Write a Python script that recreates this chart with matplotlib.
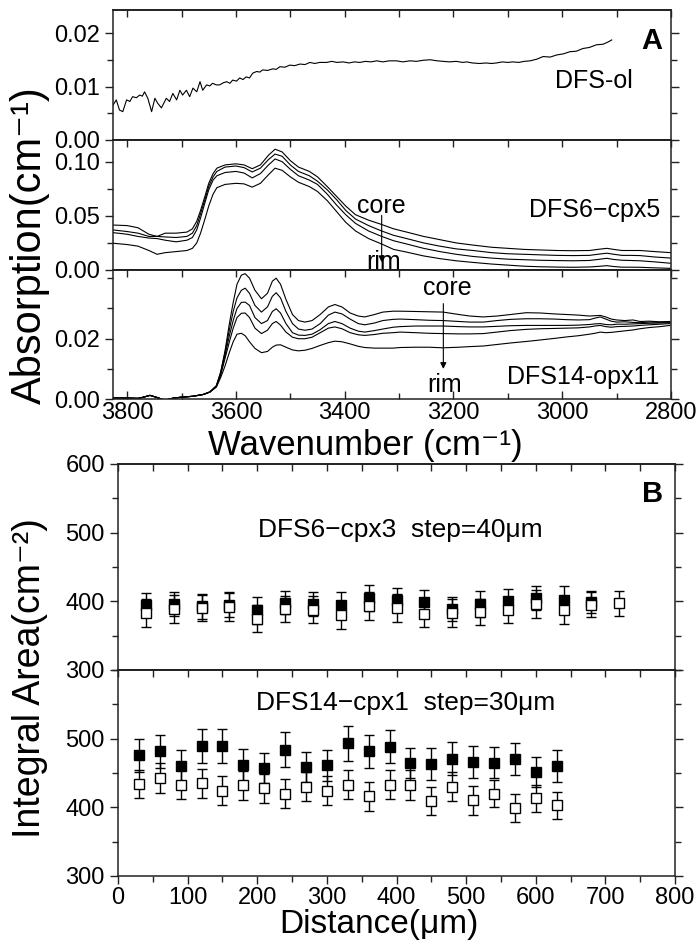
import matplotlib
matplotlib.use('Agg')
import matplotlib.pyplot as plt
import numpy as np
from matplotlib.ticker import MultipleLocator, FixedLocator, FormatStrFormatter

plt.rcParams['font.family'] = ['Liberation Sans', 'DejaVu Sans']

# ---- panel A: DFS-ol spectrum (wavenumber, absorption)
ol_spec = [
    (3826, 0.0065), (3820, 0.0075), (3814, 0.0056), (3808, 0.0053), (3801, 0.0075),
    (3795, 0.0072), (3790, 0.0081), (3783, 0.0079), (3777, 0.0084), (3772, 0.0082),
    (3768, 0.0090), (3762, 0.0078), (3755, 0.0053), (3749, 0.0078), (3744, 0.0069),
    (3737, 0.0060), (3732, 0.0070), (3728, 0.0078), (3722, 0.0072), (3716, 0.0087),
    (3709, 0.0075), (3703, 0.0093), (3698, 0.0084), (3691, 0.0093), (3685, 0.0081),
    (3679, 0.0097), (3672, 0.0090), (3666, 0.0109), (3661, 0.0093), (3654, 0.0103),
    (3648, 0.0101), (3643, 0.0106), (3636, 0.0103), (3630, 0.0103), (3623, 0.0107),
    (3617, 0.0109), (3611, 0.0106), (3606, 0.0112), (3599, 0.0110), (3593, 0.0116),
    (3587, 0.0113), (3581, 0.0118), (3575, 0.0116), (3569, 0.0125), (3562, 0.0128),
    (3556, 0.0127), (3551, 0.0131), (3542, 0.0130), (3532, 0.0133), (3526, 0.0132),
    (3519, 0.0137), (3510, 0.0136), (3501, 0.0140), (3492, 0.0139), (3482, 0.0142),
    (3473, 0.0141), (3464, 0.0145), (3455, 0.0143), (3446, 0.0145), (3433, 0.0145),
    (3424, 0.0147), (3414, 0.0145), (3403, 0.0146), (3392, 0.0144), (3382, 0.0146),
    (3372, 0.0145), (3362, 0.0147), (3352, 0.0146), (3341, 0.0148), (3330, 0.0146),
    (3318, 0.0148), (3305, 0.0148), (3293, 0.0146), (3280, 0.0148), (3268, 0.0147),
    (3256, 0.0149), (3243, 0.0150), (3230, 0.0148), (3219, 0.0147), (3207, 0.0146),
    (3195, 0.0147), (3183, 0.0145), (3176, 0.0146), (3165, 0.0144), (3152, 0.0143),
    (3140, 0.0144), (3130, 0.0143), (3121, 0.0144), (3110, 0.0146), (3100, 0.0145),
    (3091, 0.0146), (3080, 0.0145), (3070, 0.0147), (3059, 0.0148), (3047, 0.0151),
    (3035, 0.0156), (3022, 0.0155), (3010, 0.0159), (2998, 0.0161), (2986, 0.0165),
    (2974, 0.0166), (2962, 0.0171), (2950, 0.0173), (2937, 0.0178), (2925, 0.0179),
    (2916, 0.0183), (2909, 0.0187),
]

# ---- panel A: DFS6-cpx5 profile, core -> rim
cpx_wn = [3826, 3800, 3780, 3760, 3745, 3730, 3710, 3690, 3680, 3672, 3665, 3657, 3650,
          3642, 3635, 3620, 3600, 3585, 3570, 3555, 3540, 3528, 3515, 3500, 3485, 3465,
          3450, 3432, 3415, 3398, 3380, 3356, 3332, 3310, 3286, 3255, 3225, 3195, 3164,
          3130, 3100, 3070, 3041, 3010, 2980, 2950, 2935, 2918, 2905, 2890, 2875, 2857,
          2830, 2800]
cpx_core = [0.0415, 0.041, 0.039, 0.033, 0.031, 0.034, 0.034, 0.035, 0.038, 0.045, 0.055,
            0.068, 0.080, 0.089, 0.094, 0.097, 0.098, 0.097, 0.0935, 0.097, 0.106, 0.1115,
            0.109, 0.101, 0.095, 0.091, 0.086, 0.077, 0.068, 0.059, 0.051, 0.046, 0.042,
            0.038, 0.035, 0.031, 0.028, 0.025, 0.023, 0.021, 0.020, 0.019, 0.0185, 0.018,
            0.0178, 0.018, 0.019, 0.020, 0.019, 0.018, 0.018, 0.018, 0.017, 0.016]
cpx_2 = [0.037, 0.0355, 0.034, 0.031, 0.031, 0.0305, 0.030, 0.031, 0.034, 0.041, 0.052,
         0.065, 0.077, 0.086, 0.091, 0.095, 0.096, 0.0945, 0.0905, 0.094, 0.102, 0.107,
         0.105, 0.097, 0.091, 0.087, 0.082, 0.074, 0.065, 0.055, 0.047, 0.041, 0.036,
         0.032, 0.029, 0.025, 0.022, 0.0195, 0.018, 0.016, 0.015, 0.0145, 0.014, 0.0135,
         0.0133, 0.0135, 0.0145, 0.0155, 0.0145, 0.0135, 0.0135, 0.0133, 0.012, 0.011]
cpx_3 = [0.0345, 0.033, 0.031, 0.0295, 0.029, 0.0275, 0.026, 0.0275, 0.030, 0.037, 0.048,
         0.062, 0.074, 0.083, 0.087, 0.090, 0.091, 0.0895, 0.085, 0.089, 0.097, 0.1025,
         0.100, 0.093, 0.087, 0.083, 0.079, 0.070, 0.060, 0.051, 0.043, 0.036, 0.031,
         0.027, 0.024, 0.020, 0.017, 0.0145, 0.0125, 0.011, 0.010, 0.0095, 0.009, 0.0087,
         0.0085, 0.0088, 0.0097, 0.0108, 0.0097, 0.009, 0.0088, 0.0085, 0.0075, 0.0062]
cpx_rim = [0.0247, 0.0235, 0.022, 0.018, 0.0145, 0.016, 0.017, 0.018, 0.020, 0.025, 0.034,
           0.047, 0.059, 0.070, 0.076, 0.079, 0.080, 0.0795, 0.0765, 0.080, 0.088, 0.094,
           0.092, 0.086, 0.081, 0.077, 0.0725, 0.064, 0.054, 0.044, 0.036, 0.029, 0.024,
           0.019, 0.0165, 0.013, 0.0105, 0.0085, 0.007, 0.0055, 0.0045, 0.0035, 0.003,
           0.0027, 0.0025, 0.0028, 0.0033, 0.004, 0.0032, 0.0026, 0.0026, 0.0025, 0.002, 0.0015]

# ---- panel A: DFS14-opx11 profile, core -> rim
opx_wn = [3826, 3800, 3780, 3770, 3758, 3745, 3731, 3715, 3700, 3679, 3660, 3648,
          3636, 3628, 3620, 3612, 3605, 3598, 3590, 3583, 3575, 3565, 3553, 3542, 3533,
          3526, 3518, 3508, 3496, 3485, 3473, 3460, 3445, 3430, 3418, 3405, 3390, 3375,
          3363, 3345, 3330, 3311, 3298, 3270, 3245, 3219, 3190, 3170, 3145, 3120, 3095,
          3066, 3040, 3015, 2992, 2970, 2950, 2940, 2930, 2920, 2910, 2900, 2885, 2870,
          2857, 2840, 2820, 2802]
opx_base = [0.0004, 0.0004, 0.0003, 0.0007, 0.0013, 0.0006, -0.0003, 0.0004, 0.0007,
            0.0010, 0.0016, 0.0024]
opx_core = opx_base + [
    0.0045, 0.009, 0.016, 0.025, 0.032, 0.038, 0.041, 0.0415, 0.040, 0.036, 0.0332, 0.035,
    0.039, 0.040, 0.038, 0.033, 0.028, 0.026, 0.0255, 0.026, 0.028, 0.0305, 0.0313, 0.0305,
    0.0285, 0.0275, 0.0272, 0.0280, 0.0288, 0.0291, 0.0291, 0.029, 0.0289, 0.0288, 0.028,
    0.0275, 0.0272, 0.0275, 0.028, 0.0286, 0.0285, 0.0282, 0.028, 0.0278, 0.0275, 0.0276,
    0.0277, 0.0272, 0.0265, 0.0262, 0.026, 0.0262, 0.0257, 0.0258, 0.0256, 0.0257]
opx_2 = opx_base + [
    0.0044, 0.0088, 0.0155, 0.023, 0.029, 0.0335, 0.036, 0.0367, 0.035, 0.031, 0.0288,
    0.0305, 0.034, 0.0352, 0.0335, 0.029, 0.025, 0.0232, 0.0228, 0.0232, 0.025, 0.0278,
    0.0288, 0.0282, 0.0265, 0.025, 0.0246, 0.0252, 0.026, 0.0264, 0.0265, 0.0263, 0.0261,
    0.026, 0.0257, 0.0255, 0.0255, 0.026, 0.0264, 0.0266, 0.0266, 0.0265, 0.0263, 0.0262,
    0.0263, 0.0268, 0.0272, 0.0265, 0.0258, 0.0255, 0.0256, 0.0254, 0.0253, 0.0255,
    0.0254, 0.0255]
opx_3 = opx_base + [
    0.0043, 0.0085, 0.0145, 0.021, 0.026, 0.030, 0.032, 0.0321, 0.031, 0.027, 0.025, 0.026,
    0.029, 0.0299, 0.0285, 0.025, 0.022, 0.0212, 0.0211, 0.0215, 0.023, 0.025, 0.0257,
    0.025, 0.0235, 0.0225, 0.0222, 0.0227, 0.0232, 0.0238, 0.024, 0.0242, 0.0242, 0.0242,
    0.024, 0.0239, 0.0239, 0.0241, 0.0243, 0.0244, 0.0244, 0.0244, 0.0244, 0.0245, 0.0247,
    0.0249, 0.025, 0.0247, 0.0246, 0.0248, 0.0248, 0.0249, 0.025, 0.0251, 0.0252, 0.0253]
opx_4 = opx_base + [
    0.0042, 0.008, 0.0135, 0.019, 0.0235, 0.027, 0.0284, 0.0285, 0.027, 0.0235, 0.0217,
    0.0228, 0.025, 0.0257, 0.0245, 0.0222, 0.0205, 0.020, 0.020, 0.0205, 0.022, 0.0235,
    0.0239, 0.0233, 0.022, 0.0213, 0.0211, 0.0214, 0.0218, 0.022, 0.0222, 0.022, 0.0218,
    0.0217, 0.0216, 0.0216, 0.0217, 0.0222, 0.0227, 0.0231, 0.0233, 0.0234, 0.0235, 0.0236,
    0.0239, 0.0242, 0.0244, 0.024, 0.0238, 0.024, 0.0241, 0.0242, 0.0244, 0.0246, 0.0248,
    0.025]
opx_rim = opx_base + [
    0.004, 0.0072, 0.011, 0.0155, 0.019, 0.0215, 0.0218, 0.021, 0.019, 0.0168, 0.0154,
    0.0158, 0.0172, 0.0179, 0.018, 0.0172, 0.0163, 0.016, 0.0162, 0.0168, 0.0178, 0.0187,
    0.0192, 0.019, 0.0183, 0.0175, 0.0171, 0.0169, 0.0169, 0.0169, 0.0171, 0.0172, 0.0172,
    0.017, 0.0172, 0.0174, 0.0176, 0.0181, 0.0186, 0.0191, 0.0196, 0.0201, 0.0206, 0.021,
    0.0215, 0.0218, 0.0222, 0.022, 0.0221, 0.0223, 0.0226, 0.0229, 0.0233, 0.0237, 0.024,
    0.0244]

# ---- panel B: integral area profiles
cpx3_x_filled = [40, 80, 120, 160, 200, 240, 280, 320, 360, 400, 440, 480, 520, 560, 600, 640, 680]
cpx3_filled = [395, 396, 393, 395, 387, 398, 396, 395, 405, 402, 399, 389, 396, 400, 405, 402, 399]
cpx3_filled_err = [17, 17, 18, 18, 20, 17, 17, 19, 19, 18, 17, 18, 19, 18, 17, 20, 16]
cpx3_x_open = [40, 80, 120, 160, 200, 240, 280, 320, 360, 400, 440, 480, 520, 560, 600, 640, 680, 720]
cpx3_open = [383, 389, 390, 392, 375, 389, 388, 380, 393, 390, 381, 383, 385, 387, 396, 387, 395, 397]
cpx3_open_err = [20, 20, 19, 20, 20, 19, 20, 20, 20, 20, 19, 20, 19, 19, 20, 20, 18, 18]

cpx1_x = [30, 60, 90, 120, 150, 180, 210, 240, 270, 300, 330, 360, 390, 420, 450, 480,
          510, 540, 570, 600, 630]
cpx1_filled = [476, 482, 460, 489, 489, 462, 457, 484, 459, 461, 493, 482, 488, 465, 463,
               471, 466, 465, 470, 452, 460]
cpx1_filled_err = [24, 24, 23, 25, 25, 23, 22, 25, 22, 23, 25, 24, 24, 22, 23, 24, 23, 23,
                   23, 22, 23]
cpx1_open = [434, 443, 433, 435, 424, 432, 428, 420, 430, 424, 433, 416, 433, 433, 409, 430,
             410, 420, 399, 413, 403]
cpx1_open_err = [21, 22, 21, 21, 21, 21, 21, 21, 21, 21, 21, 21, 21, 22, 20, 21, 21, 20,
                 20, 20, 20]

W, H = 696, 951
fig = plt.figure(figsize=(W / 100, H / 100), dpi=100)


def px_axes(x0, y0, x1, y1):
    # axes box given in pixel coords of the 696x951 canvas (y from top)
    return fig.add_axes([x0 / W, 1 - y1 / H, (x1 - x0) / W, (y1 - y0) / H])


def style(ax, top_ticks=True, bottom_ticks=False, xlab=False, bottom_dir='out'):
    for s in ax.spines.values():
        s.set_linewidth(1.1)
        s.set_color('#222222')
    ax.tick_params(axis='y', which='both', direction='out', left=True, right=True,
                   labelright=False, labelsize=17, width=1.0, color='#222222')
    ax.tick_params(axis='y', which='major', length=6)
    ax.tick_params(axis='y', which='minor', length=4)
    ax.tick_params(axis='x', which='both', direction=bottom_dir, bottom=bottom_ticks,
                   top=False, labelbottom=xlab, labelsize=17, width=1.0, length=6,
                   color='#222222', pad=2)
    ax.tick_params(axis='x', which='minor', length=4)
    if top_ticks:
        sx = ax.secondary_xaxis('top')
        sx.xaxis.set_major_locator(ax.xaxis.get_major_locator())
        sx.xaxis.set_minor_locator(ax.xaxis.get_minor_locator())
        sx.tick_params(which='both', direction='in', labeltop=False, length=5,
                       width=1.0, color='#222222')
        sx.spines['top'].set_linewidth(1.1)


line_kw = dict(color='black', lw=0.8)

# ---------------- panel A
axA1 = px_axes(113, 10, 671, 140)
axA2 = px_axes(113, 140, 671, 270)
axA3 = px_axes(113, 270, 671, 399.3)

ol = np.array(ol_spec)
axA1.plot(ol[:, 0], ol[:, 1], **line_kw)
for c in (cpx_core, cpx_2, cpx_3, cpx_rim):
    axA2.plot(cpx_wn, c, **line_kw)
for c in (opx_core, opx_2, opx_3, opx_4, opx_rim):
    axA3.plot(opx_wn, c, **line_kw)

for ax in (axA1, axA2, axA3):
    ax.set_xlim(3826, 2800)
    ax.xaxis.set_major_locator(MultipleLocator(200))
    ax.xaxis.set_minor_locator(MultipleLocator(100))
    ax.yaxis.set_major_formatter(FormatStrFormatter('%.2f'))

axA1.set_ylim(0, 0.0243)
axA1.yaxis.set_major_locator(MultipleLocator(0.01))
axA1.yaxis.set_minor_locator(MultipleLocator(0.005))
axA2.set_ylim(0, 0.12)
axA2.yaxis.set_major_locator(MultipleLocator(0.05))
axA2.yaxis.set_minor_locator(MultipleLocator(0.025))
axA3.set_ylim(0, 0.0427)
axA3.yaxis.set_major_locator(FixedLocator([0.0, 0.02]))
axA3.yaxis.set_minor_locator(FixedLocator([0.01, 0.03, 0.04]))

style(axA1)
style(axA2)
style(axA3, bottom_ticks=True, xlab=True, bottom_dir='in')

txt = dict(fontsize=18, color='black')
axA1.text(0.932, 0.40, 'DFS-ol', transform=axA1.transAxes, ha='right', va='baseline', **txt)
axA1.text(0.984, 0.87, 'A', transform=axA1.transAxes, ha='right', va='top',
          fontsize=21, fontweight='bold')

axA2.text(0.980, 0.408, 'DFS6\u2212cpx5', transform=axA2.transAxes, ha='right',
          va='baseline', **txt)
axA2.text(0.480, 0.438, 'core', transform=axA2.transAxes, ha='center', va='baseline', **txt)
axA2.text(0.484, 0.01, 'rim', transform=axA2.transAxes, ha='center', va='baseline', **txt)
axA2.annotate('', xy=(0.4815, 0.06), xytext=(0.4815, 0.42), xycoords='axes fraction',
              arrowprops=dict(arrowstyle='-|>', lw=0.8, color='black', mutation_scale=9,
                              shrinkA=0, shrinkB=0))

axA3.text(0.980, 0.118, 'DFS14-opx11', transform=axA3.transAxes, ha='right',
          va='baseline', **txt)
axA3.text(0.600, 0.807, 'core', transform=axA3.transAxes, ha='center', va='baseline', **txt)
axA3.text(0.595, 0.056, 'rim', transform=axA3.transAxes, ha='center', va='baseline', **txt)
axA3.annotate('', xy=(0.592, 0.235), xytext=(0.592, 0.74), xycoords='axes fraction',
              arrowprops=dict(arrowstyle='-|>', lw=0.8, color='black', mutation_scale=9,
                              shrinkA=0, shrinkB=0))

fig.text(365 / W, 1 - 446 / H, 'Wavenumber (cm\u207b\u00b9)', ha='center', va='center',
         fontsize=25)
fig.text(30 / W, 1 - 245 / H, 'Absorption(cm\u207b\u00b9)', rotation=90, ha='center',
         va='center', fontsize=30)

# ---------------- panel B
axB1 = px_axes(118, 464, 675, 670)
axB2 = px_axes(118, 670, 675, 876)

mk = dict(marker='s', markersize=7, linestyle='none', capsize=3.5, elinewidth=1.0,
          capthick=1.0, ecolor='black')
axB1.errorbar(cpx3_x_filled, cpx3_filled, yerr=cpx3_filled_err, mfc='black', mec='black',
              **mk)
axB1.errorbar(cpx3_x_open, cpx3_open, yerr=cpx3_open_err, mfc='white', mec='black',
              mew=1.0, **mk)
axB2.errorbar(cpx1_x, cpx1_filled, yerr=cpx1_filled_err, mfc='black', mec='black', **mk)
axB2.errorbar(cpx1_x, cpx1_open, yerr=cpx1_open_err, mfc='white', mec='black', mew=1.0,
              **mk)

for ax in (axB1, axB2):
    ax.set_xlim(0, 800)
    ax.set_ylim(300, 600)
    ax.xaxis.set_major_locator(MultipleLocator(100))
    ax.xaxis.set_minor_locator(MultipleLocator(50))
    ax.yaxis.set_minor_locator(MultipleLocator(50))
axB1.yaxis.set_major_locator(FixedLocator([300, 400, 500, 600]))
axB2.yaxis.set_major_locator(FixedLocator([300, 400, 500]))
axB2.yaxis.set_minor_locator(FixedLocator([350, 450, 550, 600]))

style(axB1)
style(axB2, bottom_ticks=True, xlab=True)

txtB = dict(fontsize=19, color='black')
axB1.text(0.978, 0.92, 'B', transform=axB1.transAxes, ha='right', va='top',
          fontsize=21, fontweight='bold')
axB1.text(0.506, 0.646, 'DFS6\u2212cpx3  step=40\u03bcm', transform=axB1.transAxes,
          ha='center', va='baseline', **txtB)
axB2.text(0.517, 0.806, 'DFS14\u2212cpx1  step=30\u03bcm', transform=axB2.transAxes,
          ha='center', va='baseline', **txtB)

fig.text(379 / W, 1 - 925 / H, 'Distance(\u03bcm)', ha='center', va='center', fontsize=24)
fig.text(30 / W, 1 - 678 / H, 'Integral Area(cm\u207b\u00b2)', rotation=90, ha='center',
         va='center', fontsize=27)

fig.savefig('out.png', dpi=100)
